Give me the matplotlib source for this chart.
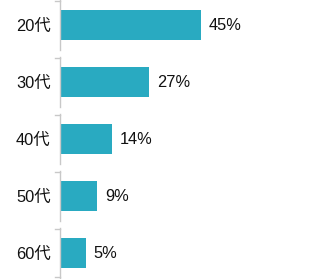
import matplotlib
matplotlib.use('Agg')
from matplotlib import pyplot as plt
import matplotlib.transforms as mtransforms

plt.rcParams['font.family'] = ['Liberation Sans', 'Noto Sans CJK JP']

ages = ['20代', '30代', '40代', '50代', '60代']
shares = [45, 27, 14, 9, 5]
value_labels = ['45%', '27%', '14%', '9%', '5%']

bar_color = '#29aac1'
axis_color = '#c8c8c8'
text_color = '#111111'
font_size = 11.8
base = -3.56  # bars start a little left of zero

fig = plt.figure(figsize=(3.2, 2.79), dpi=100)
ax = fig.add_axes([61 / 320, 0, 259 / 320, 1])

pos = list(range(len(ages)))
ax.barh(pos, [v - base for v in shares], left=base, height=0.526, color=bar_color)

for p, v, lab in zip(pos, shares, value_labels):
    ax.annotate(lab, (v, p), xytext=(5.5, 0), textcoords='offset points',
                va='center', ha='left', fontsize=font_size, color=text_color)

ax.set_xlim(base, base + 259 / 2.89)
ax.set_ylim(-0.4386 + 279 / 57, -0.4386)

ax.set_yticks(pos)
ax.set_yticklabels(ages, fontsize=font_size, color=text_color)
ax.tick_params(axis='y', length=0, pad=7.5)
ax.set_xticks([])
for s in ax.spines.values():
    s.set_visible(False)

# bracket-style axis line, one segment per category
trans = mtransforms.blended_transform_factory(ax.transAxes, ax.transData)
tick = 5 / 259
half = 0.4386
for p in pos:
    ax.plot([-0.002, -0.002], [p - half, p + half], color=axis_color, lw=1,
            transform=trans, clip_on=False)
    ax.plot([-0.002 - tick, -0.002], [p - half + 0.01, p - half + 0.01],
            color=axis_color, lw=1, transform=trans, clip_on=False)
last = pos[-1] + half - 0.01
ax.plot([-0.002 - tick, -0.002], [last, last], color=axis_color, lw=1,
        transform=trans, clip_on=False)

plt.savefig('out.png', dpi=100)
